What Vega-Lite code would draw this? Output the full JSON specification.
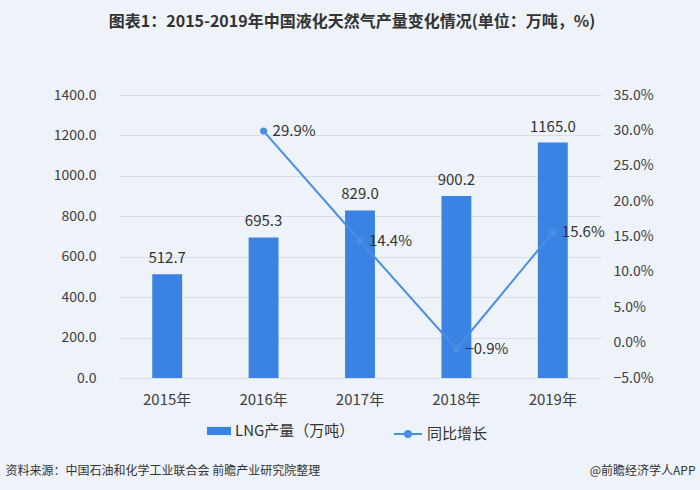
{
  "$schema": "https://vega.github.io/schema/vega-lite/v6.json",
  "width": 482,
  "height": 283,
  "autosize": {"type": "none"},
  "padding": {"left": 119, "top": 95, "right": 99, "bottom": 112},
  "background": "#eef2f9",
  "title": {
    "text": "图表1：2015-2019年中国液化天然气产量变化情况(单位：万吨，%)",
    "anchor": "middle",
    "frame": "group",
    "fontSize": 16,
    "fontWeight": "bold",
    "font": "Noto Sans CJK SC",
    "color": "#333333",
    "offset": 58,
    "dx": -8
  },
  "config": {"view": {"stroke": null}, "font": "Noto Sans CJK SC"},
  "data": {
    "values": [
      {"year": "2015年", "prod": 512.7, "growth": null},
      {"year": "2016年", "prod": 695.3, "growth": 0.299},
      {"year": "2017年", "prod": 829.0, "growth": 0.144},
      {"year": "2018年", "prod": 900.2, "growth": -0.009},
      {"year": "2019年", "prod": 1165.0, "growth": 0.156}
    ]
  },
  "layer": [
    {
      "encoding": {
        "x": {
          "field": "year",
          "type": "ordinal",
          "scale": {"paddingInner": 0.69, "paddingOuter": 0.345},
          "axis": {
            "title": "资料来源：中国石油和化学工业联合会 前瞻产业研究院整理",
            "titleAnchor": "start",
            "titleAlign": "left",
            "titleX": -114,
            "titleY": 92,
            "titleFontSize": 12,
            "titleFontWeight": "normal",
            "titleColor": "#333333",
            "titleBaseline": "middle",
            "labelAngle": 0,
            "labelFontSize": 15,
            "labelColor": "#404040",
            "labelPadding": 14,
            "ticks": false,
            "domain": true,
            "domainColor": "#d9dde6"
          }
        }
      },
      "layer": [
        {
          "mark": {"type": "bar", "color": "#3b83e2"},
          "encoding": {
            "y": {
              "field": "prod",
              "type": "quantitative",
              "scale": {"domain": [0, 1400]},
              "axis": {
                "title": null,
                "values": [0, 200, 400, 600, 800, 1000, 1200, 1400],
                "labelExpr": "format(datum.value, '.1f')",
                "labelFontSize": 14,
                "labelColor": "#404040",
                "labelPadding": 23,
                "ticks": false,
                "domain": false,
                "grid": true,
                "gridColor": "#d9dde6"
              }
            },
            "fill": {
              "datum": "LNG产量（万吨）",
              "scale": {"range": ["#3b83e2"]},
              "legend": {
                "orient": "none",
                "legendX": 88,
                "legendY": 324,
                "title": null,
                "symbolType": "M-1,-0.34H1V0.34H-1Z",
                "symbolSize": 576,
                "symbolStrokeWidth": 0,
                "labelFontSize": 15,
                "labelColor": "#333333"
              }
            }
          }
        },
        {
          "mark": {"type": "text", "baseline": "bottom", "dy": -8, "fontSize": 15, "color": "#333333"},
          "encoding": {
            "y": {"field": "prod", "type": "quantitative"},
            "text": {"field": "prod", "type": "quantitative", "format": ".1f"}
          }
        }
      ]
    },
    {
      "transform": [{"filter": "datum.growth != null"}],
      "encoding": {
        "x": {"field": "year", "type": "ordinal"},
        "y": {
          "field": "growth",
          "type": "quantitative",
          "scale": {"domain": [-0.05, 0.35]},
          "axis": {
            "orient": "right",
            "title": "@前瞻经济学人APP",
            "titleAngle": 0,
            "titleX": 94,
            "titleY": 375,
            "titleAlign": "right",
            "titleBaseline": "middle",
            "titleFontSize": 12,
            "titleFontWeight": "normal",
            "titleColor": "#333333",
            "values": [-0.05, 0, 0.05, 0.1, 0.15, 0.2, 0.25, 0.3, 0.35],
            "labelExpr": "format(datum.value, '.1%')",
            "labelFontSize": 14,
            "labelColor": "#404040",
            "labelPadding": 12,
            "grid": false,
            "ticks": false,
            "domain": false
          }
        }
      },
      "layer": [
        {
          "mark": {"type": "line", "strokeWidth": 2},
          "encoding": {
            "stroke": {
              "datum": "同比增长",
              "scale": {"range": ["#4a8ee6"]},
              "legend": {
                "orient": "none",
                "legendX": 274,
                "legendY": 324,
                "title": null,
                "symbolType": "M-1,0H1M0.22,0A0.22,0.22,0,1,1,-0.22,0A0.22,0.22,0,1,1,0.22,0",
                "symbolSize": 784,
                "symbolStrokeWidth": 2,
                "symbolFillColor": "#4a8ee6",
                "labelFontSize": 15,
                "labelColor": "#333333"
              }
            }
          }
        },
        {
          "mark": {"type": "point", "filled": true, "size": 50, "color": "#4a8ee6", "opacity": 1}
        },
        {
          "mark": {"type": "text", "align": "left", "baseline": "middle", "dx": 9, "fontSize": 15, "color": "#333333"},
          "encoding": {
            "text": {"field": "growth", "type": "quantitative", "format": ".1%"}
          }
        }
      ]
    }
  ],
  "resolve": {"scale": {"y": "independent"}}
}
